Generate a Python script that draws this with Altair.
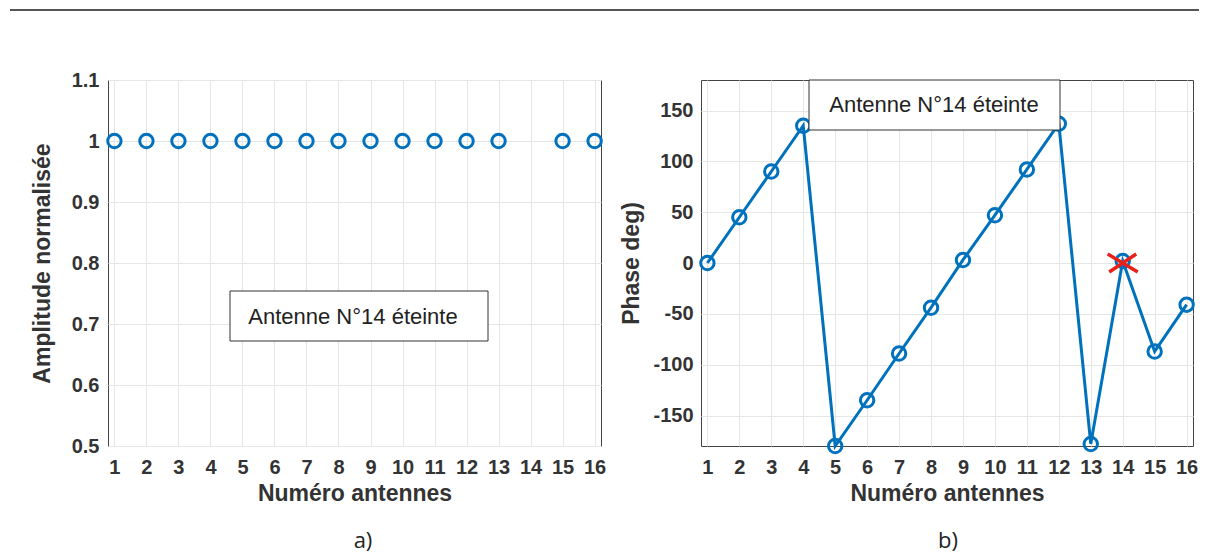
import altair as alt
import pandas as pd

antennas = list(range(1, 17))
amplitude = [1, 1, 1, 1, 1, 1, 1, 1, 1, 1, 1, 1, 1, None, 1, 1]
phase = [0, 45, 90, 135, -180, -135, -89, -44, 3, 47, 92, 137, -178, 2, -87, -41]
off_antenna = [14]
off_phase = [0]
x_ticks = list(range(1, 17))
amp_ticks = [0.5, 0.6, 0.7, 0.8, 0.9, 1.0, 1.1]
phase_ticks = [-150, -100, -50, 0, 50, 100, 150]
note_text = "Antenne N°14 éteinte"

amp_df = pd.DataFrame({"n": antennas, "a": amplitude}).dropna()
ph_df = pd.DataFrame({"n": antennas, "p": phase})
off_df = pd.DataFrame({"n": off_antenna, "p": off_phase})
one = pd.DataFrame({"k": [0]})

BLUE = "#0072BD"
W, H = 493, 366
FONT = "Liberation Sans"

xscale = alt.Scale(domain=[0.8, 16.2], nice=False, zero=False)
xaxis = alt.Axis(values=x_ticks, title="Numéro antennes", labelFlush=False, labelOverlap=False,
                 tickSize=0, labelPadding=11, titlePadding=5)

# ---------- panel a ----------
ya = alt.Y("a:Q", scale=alt.Scale(domain=[0.5, 1.1], nice=False, zero=False),
           axis=alt.Axis(values=amp_ticks, format="~g", title="Amplitude normalisée",
                         labelOverlap=False, tickSize=0, labelPadding=9, titlePadding=17))
pts_a = alt.Chart(amp_df).mark_point(shape="circle", filled=False, strokeWidth=3,
                                     size=180, color=BLUE, opacity=1).encode(
    x=alt.X("n:Q", scale=xscale, axis=xaxis), y=ya)

box_a = alt.Chart(one).mark_rect(fill="white", stroke="#333", strokeWidth=1).encode(
    x=alt.value(122), x2=alt.value(380), y=alt.value(211), y2=alt.value(261))
txt_a = alt.Chart(one).mark_text(text=note_text, fontSize=22, font=FONT, color="#222").encode(
    x=alt.value(245), y=alt.value(237))
cap_a = alt.Chart(one).mark_text(text="a)", fontSize=22, font="Open Sans", color="#222").encode(
    x=alt.value(255), y=alt.value(461))
top_line = alt.Chart(one).mark_rule(color="#555", strokeWidth=2).encode(
    x=alt.value(-98), x2=alt.value(1091), y=alt.value(-70))

panel_a = alt.layer(top_line, box_a, txt_a, pts_a, cap_a).properties(width=W, height=H)

# ---------- panel b ----------
yaxis_b = alt.Axis(values=phase_ticks, title="Phase deg)", labelOverlap=False, tickSize=0,
                   labelExpr="'' + datum.value", labelPadding=8, titlePadding=9)
xb = alt.X("n:Q", scale=xscale, axis=xaxis)
yb = alt.Y("p:Q", scale=alt.Scale(domain=[-180, 180], nice=False, zero=False), axis=yaxis_b)
line_b = alt.Chart(ph_df).mark_line(color=BLUE, strokeWidth=3).encode(x=xb, y=yb)
pts_b = alt.Chart(ph_df).mark_point(shape="circle", filled=False, strokeWidth=3,
                                    size=180, color=BLUE, opacity=1).encode(x=xb, y=yb)
off_b = alt.Chart(off_df).mark_point(shape="M-1,-0.6L1,0.6M-0.9,0.6L0.9,-0.6", filled=False,
                                     strokeWidth=3.5, size=900, color="#e8201a", opacity=1).encode(
    x=xb, y=yb)
box_b = alt.Chart(one).mark_rect(fill="white", stroke="#333", strokeWidth=1).encode(
    x=alt.value(108), x2=alt.value(359), y=alt.value(0), y2=alt.value(50))
txt_b = alt.Chart(one).mark_text(text=note_text, fontSize=22, font=FONT, color="#222").encode(
    x=alt.value(233), y=alt.value(25))
cap_b = alt.Chart(one).mark_text(text="b)", fontSize=22, font="Open Sans", color="#222").encode(
    x=alt.value(247), y=alt.value(461))

panel_b = alt.layer(line_b, pts_b, off_b, box_b, txt_b, cap_b).properties(width=W - 1, height=H)

chart = alt.hconcat(panel_a, panel_b, spacing=100, bounds="flush").resolve_scale(
    x="independent", y="independent"
).properties(
    padding={"left": 0, "top": 0, "right": 0, "bottom": 6}, background="white"
).configure_view(
    stroke="#444", strokeWidth=1
).configure_axis(
    grid=True, gridColor="#e6e6e6", gridWidth=1, domain=False, labelOverlap=False,
    labelFont=FONT, labelFontSize=20, labelFontWeight="bold", labelColor="#333",
    titleFont=FONT, titleFontSize=23, titleFontWeight="bold", titleColor="#333"
)

chart.save("out.html", embed_options={"renderer": "svg", "actions": False})
